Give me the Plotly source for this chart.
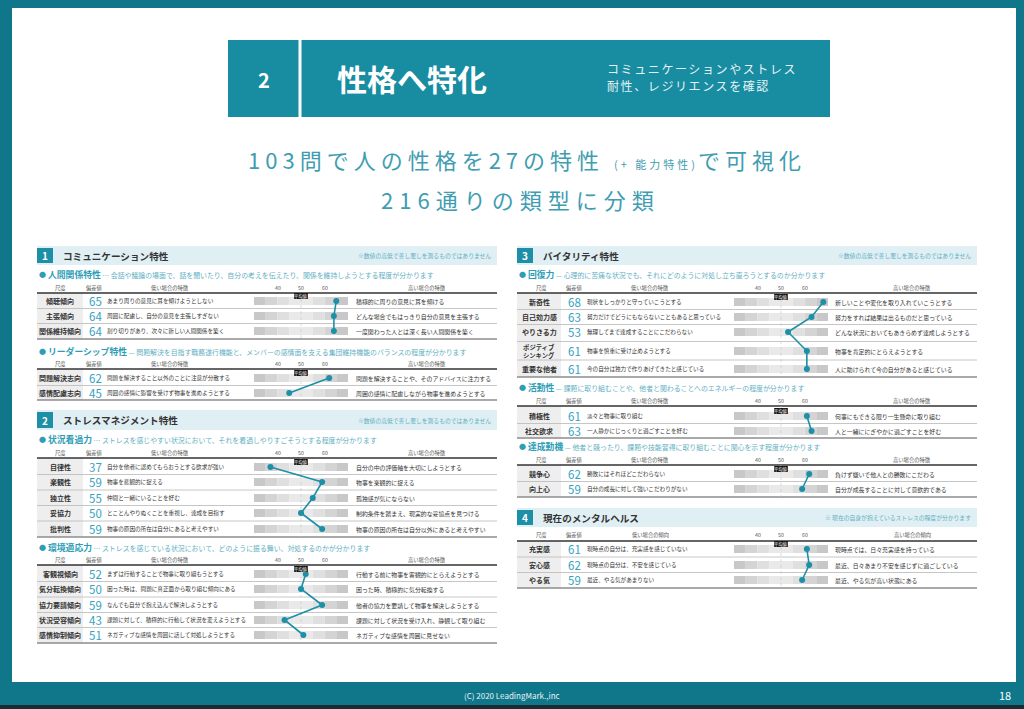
import plotly.graph_objects as go

FONT = "Noto Sans CJK JP, Noto Sans, sans-serif"

# ================= DATA =================
tick_values = [40, 50, 60]
band_edges = [30, 35, 40, 45, 50, 55, 60, 65, 70]
col_headers = ["尺度", "偏差値", "低い場合の特徴", "高い場合の特徴"]
col_headers_mh = ["尺度", "偏差値", "低い場合の傾向", "高い場合の傾向"]

rel_labels = ["傾聴傾向", "主張傾向", "関係維持傾向"]
rel_values = [65, 64, 64]
rel_low = ["あまり周りの意見に耳を傾けようとしない", "周囲に配慮し、自分の意見を主張しすぎない", "割り切りがあり、次々に新しい人間関係を築く"]
rel_high = ["積極的に周りの意見に耳を傾ける", "どんな場合でもはっきり自分の意見を主張する", "一度関わった人とは深く長い人間関係を築く"]

lead_labels = ["問題解決志向", "感情配慮志向"]
lead_values = [62, 45]
lead_low = ["問題を解決すること以外のことに注意が分散する", "周囲の感情に影響を受けず物事を進めようとする"]
lead_high = ["問題を解決することや、そのアドバイスに注力する", "周囲の感情に配慮しながら物事を進めようとする"]

over_labels = ["自律性", "楽観性", "独立性", "妥協力", "批判性"]
over_values = [37, 59, 55, 50, 59]
over_low = ["自分を他者に認めてもらおうとする欲求が強い", "物事を悲観的に捉える", "仲間と一緒にいることを好む", "とことんやりぬくことを重視し、達成を目指す", "物事の原因の所在は自分にあると考えやすい"]
over_high = ["自分の中の評価軸を大切にしようとする", "物事を楽観的に捉える", "孤独感が気にならない", "制約条件を踏まえ、現実的な妥協点を見つける", "物事の原因の所在は自分以外にあると考えやすい"]

adapt_labels = ["客観視傾向", "気分転換傾向", "協力要請傾向", "状況受容傾向", "感情抑制傾向"]
adapt_values = [52, 50, 59, 43, 51]
adapt_low = ["まずは行動することで物事に取り組もうとする", "困った時は、問題に真正面から取り組む傾向にある", "なんでも自分で抱え込んで解決しようとする", "課題に対して、積極的に行動して状況を変えようとする", "ネガティブな感情を周囲に話して対処しようとする"]
adapt_high = ["行動する前に物事を客観的にとらえようとする", "困った時、積極的に気分転換する", "他者の協力を要請して物事を解決しようとする", "課題に対して状況を受け入れ、静観して取り組む", "ネガティブな感情を周囲に見せない"]

rec_labels = ["新奇性", "自己効力感", "やりきる力", "ポジティブ<br>シンキング", "重要な他者"]
rec_values = [68, 63, 53, 61, 61]
rec_low = ["現状をしっかりと守っていこうとする", "努力だけでどうにもならないこともあると思っている", "無理してまで達成することにこだわらない", "物事を慎重に受け止めようとする", "今の自分は独力で作りあげてきたと感じている"]
rec_high = ["新しいことや変化を取り入れていこうとする", "努力をすれば結果は出るものだと思っている", "どんな状況においてもあきらめず達成しようとする", "物事を肯定的にとらえようとする", "人に助けられて今の自分があると感じている"]

act_labels = ["積極性", "社交欲求"]
act_values = [61, 63]
act_low = ["淡々と物事に取り組む", "一人静かにじっくりと過ごすことを好む"]
act_high = ["何事にもできる限り一生懸命に取り組む", "人と一緒ににぎやかに過ごすことを好む"]

ach_labels = ["競争心", "向上心"]
ach_values = [62, 59]
ach_low = ["勝敗にはそれほどこだわらない", "自分の成長に対して強いこだわりがない"]
ach_high = ["負けず嫌いで他人との勝敗にこだわる", "自分が成長することに対して意欲的である"]

mh_labels = ["充実感", "安心感", "やる気"]
mh_values = [61, 62, 59]
mh_low = ["現時点の自分は、充実感を感じていない", "現時点の自分は、不安を感じている", "最近、やる気があまりない"]
mh_high = ["現時点では、日々充実感を持っている", "最近、日々あまり不安を感じずに過ごしている", "最近、やる気が高い状態にある"]

# ================= STYLE / LAYOUT =================
FRAME = "#10778b"
HEAD = "#188ca1"
TEAL = "#1d8fa6"
TEAL_TXT = "#2e9db6"
TEAL_LIGHT = "#5fb0c3"
NUM = "#35a2bf"
DARK = "#333333"
SECTION_BG = "#dfeff4"
LABEL_BG = "#eeeeee"
BAND_COLORS = ["#c8c8c8", "#d4d4d4", "#dfdfdf", "#e9e9e9", "#e9e9e9", "#dfdfdf", "#d4d4d4", "#c8c8c8"]

panels = {
    "L": dict(x0=37, x1=497, labw=46, lab=60, val=95, low=106, high=355, ax="x2",
              h_lab=60, h_val=94, h_low=170, h_high=427),
    "R": dict(x0=517, x1=977, labw=44, lab=539, val=574, low=586, high=834, ax="x3",
              h_lab=541, h_val=574, h_low=650, h_high=912),
}

sections = [
    dict(p="L", y0=246, y1=265, num="1", title="コミュニケーション特性",
         note="※数値の高低で善し悪しを測るものではありません"),
    dict(p="L", y0=410, y1=430, num="2", title="ストレスマネジメント特性",
         note="※数値の高低で善し悪しを測るものではありません"),
    dict(p="R", y0=246, y1=265, num="3", title="バイタリティ特性",
         note="※数値の高低で善し悪しを測るものではありません"),
    dict(p="R", y0=508, y1=527, num="4", title="現在のメンタルヘルス",
         note="※ 現在の自身が抱えているストレスの程度が分かります"),
]

blocks = [
    dict(p="L", sub="人間関係特性", sep="…", desc="会話や議論の場面で、話を聞いたり、自分の考えを伝えたり、関係を維持しようとする程度が分かります",
         sub_y=274, head_y=288, line_y=293, rows=[301, 316, 331], bottom=339,
         labels=rel_labels, values=rel_values, low=rel_low, high=rel_high, heads=col_headers),
    dict(p="L", sub="リーダーシップ特性", sep="—", desc="問題解決を目指す職務遂行機能と、メンバーの感情面を支える集団維持機能のバランスの程度が分かります",
         sub_y=351, head_y=364, line_y=369, rows=[378, 393], bottom=400,
         labels=lead_labels, values=lead_values, low=lead_low, high=lead_high, heads=col_headers),
    dict(p="L", sub="状況看過力", sep="…", desc="ストレスを感じやすい状況において、それを看過しやりすごそうとする程度が分かります",
         sub_y=439, head_y=453, line_y=458, rows=[467, 482, 498, 513, 529], bottom=537,
         labels=over_labels, values=over_values, low=over_low, high=over_high, heads=col_headers),
    dict(p="L", sub="環境適応力", sep="…", desc="ストレスを感じている状況において、どのように振る舞い、対処するのかが分かります",
         sub_y=547, head_y=560, line_y=565, rows=[574, 589, 605, 620, 635], bottom=643,
         labels=adapt_labels, values=adapt_values, low=adapt_low, high=adapt_high, heads=col_headers),
    dict(p="R", sub="回復力", sep="—", desc="心理的に苦痛な状況でも、それにどのように対処し立ち直ろうとするのか分かります",
         sub_y=274, head_y=288, line_y=293, rows=[302, 317, 332, 351, 369], bottom=377,
         labels=rec_labels, values=rec_values, low=rec_low, high=rec_high, heads=col_headers),
    dict(p="R", sub="活動性", sep="—", desc="課題に取り組むことや、他者と関わることへのエネルギーの程度が分かります",
         sub_y=387, head_y=401, line_y=406, rows=[416, 431], bottom=438,
         labels=act_labels, values=act_values, low=act_low, high=act_high, heads=col_headers),
    dict(p="R", sub="達成動機", sep="—", desc="他者と競ったり、課題や技能習得に取り組むことに関心を示す程度が分かります",
         sub_y=446, head_y=460, line_y=465, rows=[474, 489], bottom=497,
         labels=ach_labels, values=ach_values, low=ach_low, high=ach_high, heads=col_headers),
    dict(p="R", sub=None, sep="", desc="",
         sub_y=None, head_y=535, line_y=541, rows=[549, 565, 580], bottom=588,
         labels=mh_labels, values=mh_values, low=mh_low, high=mh_high, heads=col_headers_mh),
]

shapes = []
annotations = []


def rect(x0, y0, x1, y1, color, xref="x", layer="below"):
    shapes.append(dict(type="rect", xref=xref, yref="y", x0=x0, x1=x1, y0=y0, y1=y1,
                       fillcolor=color, line=dict(width=0), layer=layer))


def hline(x0, x1, y, color, width, xref="x", dash="solid"):
    shapes.append(dict(type="line", xref=xref, yref="y", x0=x0, x1=x1, y0=y, y1=y,
                       line=dict(color=color, width=width, dash=dash), layer="below"))


def vline(x, y0, y1, color, width, xref="x", dash="solid"):
    shapes.append(dict(type="line", xref=xref, yref="y", x0=x, x1=x, y0=y0, y1=y1,
                       line=dict(color=color, width=width, dash=dash), layer="below"))


def txt(x, y, s, size, color=DARK, xanchor="left", xref="x", family=FONT):
    annotations.append(dict(x=x, y=y, xref=xref, yref="y", text=s, showarrow=False,
                            xanchor=xanchor, yanchor="middle", borderpad=0,
                            font=dict(size=size, color=color, family=family)))


# ---- frame ----
rect(12, 8, 1016, 682, "white")
rect(0, 705, 1024, 709, "#1c2a31")

# ---- header box ----
rect(228, 40, 830, 117, HEAD)
vline(300, 40, 117, "white", 3)
txt(264, 79, "<b>2</b>", 20, "white", "center")
txt(412, 78, "<b>性格へ特化</b>", 30, "white", "center")
txt(606, 68, "<span style='letter-spacing:1.6px'>コミュニケーションやストレス</span>", 12, "#e6f3f6")
txt(606, 85, "<span style='letter-spacing:1.6px'>耐性、レジリエンスを確認</span>", 12, "#e6f3f6")

# ---- headline ----
txt(527, 159, "<span style='letter-spacing:5px'>103問で人の性格を27の特性 </span>"
              "<span style='font-size:11px;letter-spacing:3px'>(+ 能力特性)</span>"
              "<span style='letter-spacing:5px'>で可視化</span>", 22, "#3f9db1", "center")
txt(520, 199, "<span style='letter-spacing:6px'>216通りの類型に分類</span>", 22, "#3f9db1", "center")

# ---- footer ----
txt(512, 695, "(C) 2020 LeadingMark.,inc", 8, "#e8f2f4", "center")
txt(1005, 695, "18", 11, "white", "center")

# ---- section bars ----
for s in sections:
    P = panels[s["p"]]
    rect(P["x0"], s["y0"], P["x1"], s["y1"], SECTION_BG)
    rect(P["x0"], s["y0"] + 2, P["x0"] + 16, s["y1"] - 2, TEAL)
    cy = (s["y0"] + s["y1"]) / 2
    txt(P["x0"] + 8, cy, "<b>" + s["num"] + "</b>", 10, "white", "center")
    txt(P["x0"] + 25, cy, "<b>" + s["title"] + "</b>", 9.6, DARK)
    txt(P["x1"] - 5, cy, s["note"], 5.8, TEAL_LIGHT, "right")

# ---- tables ----
for b in blocks:
    P = panels[b["p"]]
    ax = P["ax"]
    rows = b["rows"]
    if b["sub"]:
        txt(P["x0"] + 1, b["sub_y"], "●", 7, TEAL_TXT)
        txt(P["x0"] + 10, b["sub_y"],
            "<b>" + b["sub"] + "</b><span style='font-size:6.9px;color:" + TEAL_LIGHT + "'> "
            + b["sep"] + " " + b["desc"] + "</span>", 8.8, TEAL_TXT)
    heads = b["heads"]
    txt(P["h_lab"], b["head_y"], heads[0], 5.3, "#555", "center")
    txt(P["h_val"], b["head_y"], heads[1], 5.3, "#555", "center")
    txt(P["h_low"], b["head_y"], heads[2], 5.3, "#555", "center")
    txt(P["h_high"], b["head_y"], heads[3], 5.3, "#555", "center")
    for t in tick_values:
        txt(t, b["head_y"], str(t), 5.3, "#555", "center", xref=ax)
    # label column background
    rect(P["x0"], b["line_y"], P["x0"] + P["labw"], b["bottom"], LABEL_BG)
    hline(P["x0"], P["x1"], b["line_y"], "#333333", 1.3)
    for i in range(len(rows) - 1):
        hline(P["x0"], P["x1"], (rows[i] + rows[i + 1]) / 2, "#b8b8b8", 0.8)
    hline(P["x0"], P["x1"], b["bottom"], "#8c8c8c", 1.6)
    for i, yc in enumerate(rows):
        for k in range(len(band_edges) - 1):
            rect(band_edges[k], yc - 4, band_edges[k + 1], yc + 4, BAND_COLORS[k], xref=ax)
        lab_size = 6.3 if "<br>" in b["labels"][i] else 7
        txt(P["lab"], yc, "<b>" + b["labels"][i] + "</b>", lab_size, DARK, "center")
        txt(P["val"], yc, str(b["values"][i]), 11.5, NUM, "center")
        txt(P["low"], yc, b["low"][i], 5.6, DARK)
        txt(P["high"], yc, b["high"][i], 5.9, DARK)
    # guide at the mean
    vline(50, b["line_y"], b["bottom"], "#c8c8c8", 0.6, xref=ax, dash="dot")
    # mean badge
    rect(47.1, rows[0] - 8, 52.9, rows[0] - 2, "#111111", xref=ax, layer="above")
    txt(50, rows[0] - 5, "平均値", 4.3, "white", "center", xref=ax)

# ---- figure ----
fig = go.Figure()
for b in blocks:
    P = panels[b["p"]]
    fig.add_trace(go.Scatter(
        x=b["values"], y=b["rows"], xaxis=P["ax"], yaxis="y",
        mode="lines+markers",
        line=dict(color=TEAL, width=1.6),
        marker=dict(color=TEAL, size=6),
        hoverinfo="skip", showlegend=False, cliponaxis=False))

fig.update_layout(
    width=1024, height=709, autosize=False,
    margin=dict(l=0, r=0, t=0, b=0, pad=0),
    paper_bgcolor=FRAME, plot_bgcolor="rgba(0,0,0,0)",
    showlegend=False,
    xaxis=dict(domain=[0, 1], range=[0, 1024], visible=False, fixedrange=True),
    yaxis=dict(domain=[0, 1], range=[709, 0], visible=False, fixedrange=True),
    xaxis2=dict(domain=[254 / 1024, 348 / 1024], range=[30, 70], visible=False,
                anchor="y", fixedrange=True),
    xaxis3=dict(domain=[734 / 1024, 828 / 1024], range=[30, 70], visible=False,
                anchor="y", fixedrange=True),
    shapes=shapes, annotations=annotations,
    font=dict(family=FONT),
)

fig.write_html("out.html", config={"displayModeBar": False},
               post_script="document.body.style.margin='0';document.body.style.overflow='hidden';")
